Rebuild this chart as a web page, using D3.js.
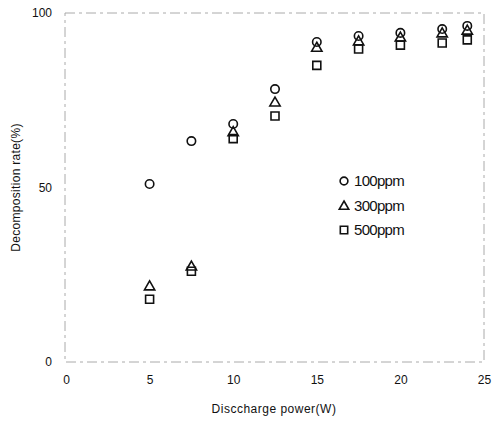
<!DOCTYPE html>
<html><head><meta charset="utf-8">
<script src="https://cdn.jsdelivr.net/npm/d3@7/dist/d3.min.js"></script>
<style>body{margin:0;background:#fff;}svg text{font-family:"Liberation Sans",Arial,sans-serif;fill:#111;}</style>
</head><body><svg id="c" width="493" height="422"></svg>
<script>
const power = [5, 7.5, 10, 12.5, 15, 17.5, 20, 22.5, 24];
const ppm100 = [51, 63.3, 68.2, 78.2, 91.7, 93.4, 94.3, 95.4, 96.3];
const ppm300 = [21.8, 27.5, 66, 74.5, 90.2, 92, 93.1, 94.3, 95.1];
const ppm500 = [18, 26, 64, 70.5, 85, 89.7, 90.8, 91.4, 92.3];
const xTicks = [0, 5, 10, 15, 20, 25];
const yTicks = [0, 50, 100];
const seriesNames = ["100ppm", "300ppm", "500ppm"];

const svg = d3.select("#c");
const L = 66, R = 484, T = 13, B = 362;
const x = d3.scaleLinear().domain([0, 25]).range([L, R]);
const y = d3.scaleLinear().domain([0, 100]).range([B, T]);

// frame (faint, dashed like a scan)
svg.append("rect").attr("x", L - 1).attr("y", T).attr("width", R - L + 1).attr("height", B - T)
  .attr("fill", "none").attr("stroke", "#aaa").attr("stroke-width", 1).attr("stroke-dasharray", "10 4 3 4");

const xAxis = d3.axisBottom(x).tickValues(xTicks).tickSize(0).tickPadding(0);
const gx = svg.append("g").attr("transform", `translate(0,${B + 13})`).call(xAxis);
gx.select(".domain").remove();
gx.selectAll("text").attr("font-size", 12).attr("dy", "0.71em").attr("fill", "#111");

const yAxis = d3.axisLeft(y).tickValues(yTicks).tickSize(0).tickPadding(0);
const gy = svg.append("g").attr("transform", `translate(${L - 14},0)`).call(yAxis);
gy.select(".domain").remove();
gy.selectAll("text").attr("font-size", 12).attr("fill", "#111");

svg.append("text").attr("x", (L + R) / 2 - 1).attr("y", 413).attr("text-anchor", "middle")
  .attr("font-size", 12).attr("letter-spacing", 0.5).text("Disccharge power(W)");
svg.append("text").attr("transform", `translate(20,${(T + B) / 2}) rotate(-90)`).attr("text-anchor", "middle")
  .attr("font-size", 12).attr("letter-spacing", 0.3).text("Decomposition rate(%)");

const sym = [d3.symbolCircle, d3.symbolTriangle, d3.symbolSquare];
const sizes = [56, 46, 64];
const data = [ppm100, ppm300, ppm500];
data.forEach((vals, i) => {
  svg.append("g").selectAll("path").data(vals).join("path")
    .attr("transform", (d, j) => `translate(${x(power[j])},${y(d) + (i === 1 ? 1 : 0)})`)
    .attr("d", d3.symbol().type(sym[i]).size(sizes[i]))
    .attr("fill", "none").attr("stroke", "#111").attr("stroke-width", 1.6);
});

// legend
const lg = svg.append("g");
seriesNames.forEach((n, i) => {
  const yy = 181 + i * 24.5;
  lg.append("path").attr("transform", `translate(344,${yy + (i === 1 ? 1 : 0)})`)
    .attr("d", d3.symbol().type(sym[i]).size(sizes[i] * 0.85))
    .attr("fill", "none").attr("stroke", "#111").attr("stroke-width", 1.6);
  lg.append("text").attr("x", 354).attr("y", yy).attr("dy", "0.36em").attr("font-size", 15)
    .attr("letter-spacing", -0.7).text(n);
});
</script></body></html>
